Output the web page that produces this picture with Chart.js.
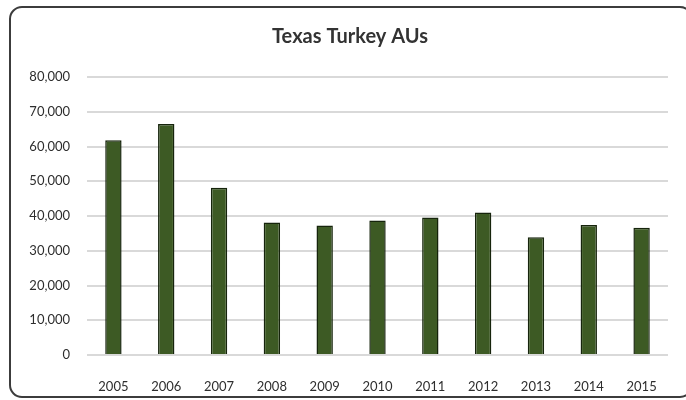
<!DOCTYPE html>
<html>
<head>
<meta charset="utf-8">
<script src="https://cdn.jsdelivr.net/npm/chart.js@4/dist/chart.umd.min.js"></script>
<style>
  html, body { margin: 0; padding: 0; background: #ffffff; }
  #wrap { position: relative; width: 686px; height: 400px; overflow: hidden; }
  #frame {
    position: absolute; left: 9px; top: 6px; width: 684px; height: 392px;
    border: 2px solid #3c3c3c; border-radius: 13px; box-sizing: border-box;
  }
  canvas { position: absolute; left: 0; top: 0; }
</style>
</head>
<body>
<div id="wrap">
  <div id="frame"></div>
  <canvas id="chart" width="686" height="400"></canvas>
</div>
<script>
// Texas turkey animal units by year
const years = ['2005', '2006', '2007', '2008', '2009', '2010', '2011', '2012', '2013', '2014', '2015'];
const turkeyAUs = [61800, 66500, 48100, 38100, 37300, 38700, 39600, 41000, 33900, 37400, 36600];
const yTicks = [0, 10000, 20000, 30000, 40000, 50000, 60000, 70000, 80000];

const labelFont = { family: 'Lato, "Open Sans", sans-serif', size: 13 };

// Nudge the title a little to the right, over the plot area
const titleShift = {
  id: 'titleShift',
  afterLayout(chart) {
    if (chart.titleBlock) { chart.titleBlock.left += 12; }
  }
};

new Chart(document.getElementById('chart'), {
  type: 'bar',
  data: {
    labels: years,
    datasets: [{
      label: 'Texas Turkey AUs',
      data: turkeyAUs,
      backgroundColor: '#3d5a24',
      borderColor: '#16240c',
      borderWidth: 1.5,
      categoryPercentage: 1,
      barPercentage: 0.31
    }]
  },
  plugins: [titleShift],
  options: {
    responsive: false,
    animation: false,
    layout: { padding: { left: 20, right: 18, top: 0, bottom: 0 } },
    plugins: {
      legend: { display: false },
      tooltip: { enabled: false },
      title: {
        display: true,
        text: 'Texas Turkey AUs',
        color: '#333333',
        font: { family: 'Lato, "Open Sans", sans-serif', size: 20, weight: 'bold' },
        padding: { top: 25, bottom: 28 }
      }
    },
    scales: {
      x: {
        grid: { display: false },
        border: { display: false },
        ticks: { color: '#2e2e2e', font: labelFont, padding: 16, maxRotation: 0 },
        afterFit: (s) => { s.height = 45; }
      },
      y: {
        min: 0,
        max: 80000,
        afterBuildTicks: (s) => { s.ticks = yTicks.map(v => ({ value: v })); },
        grid: { color: '#d9d9d9', lineWidth: 2, drawTicks: false },
        border: { display: false },
        ticks: {
          color: '#2e2e2e',
          font: labelFont,
          padding: 17,
          callback: (v) => Number(v).toLocaleString('en-US')
        },
        afterFit: (s) => { s.width = 67; }
      }
    }
  }
});
</script>
</body>
</html>
